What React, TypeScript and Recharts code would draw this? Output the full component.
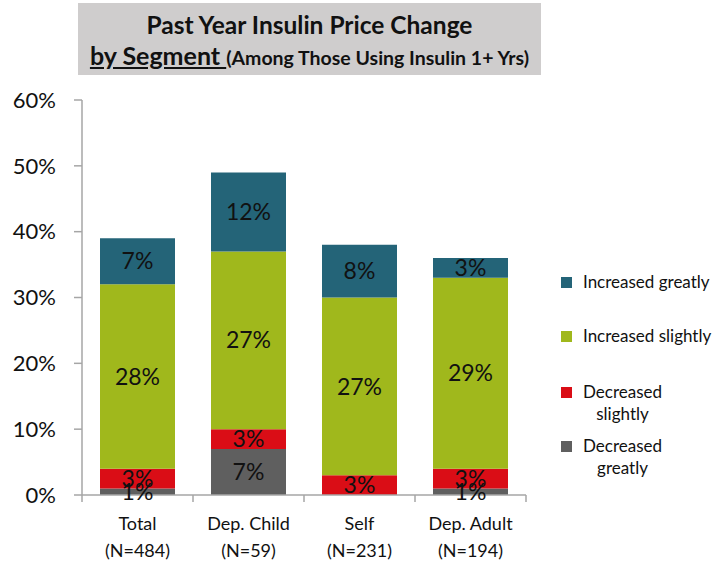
import { BarChart, Bar, XAxis, YAxis, LabelList } from 'recharts'

const categories = ['Total', 'Dep. Child', 'Self', 'Dep. Adult']
const sampleSizes = ['(N=484)', '(N=59)', '(N=231)', '(N=194)']

const decreasedGreatly = [1, 7, 0, 1]
const decreasedSlightly = [3, 3, 3, 3]
const increasedSlightly = [28, 27, 27, 29]
const increasedGreatly = [7, 12, 8, 3]

const yTicks = [0, 10, 20, 30, 40, 50, 60]

const FONT = 'Lato, "Open Sans", sans-serif'
const AXIS_GREY = '#a6a6a6'

const series = [
  { key: 'decGreat', name: 'Decreased greatly', color: '#5f5f5f', values: decreasedGreatly },
  { key: 'decSlight', name: 'Decreased slightly', color: '#da0d16', values: decreasedSlightly },
  { key: 'incSlight', name: 'Increased slightly', color: '#a0b81c', values: increasedSlightly },
  { key: 'incGreat', name: 'Increased greatly', color: '#246478', values: increasedGreatly },
]

const data = categories.map((cat, i) => {
  const row: Record<string, string | number> = { cat, n: sampleSizes[i] }
  series.forEach((s) => {
    row[s.key] = s.values[i]
  })
  return row
})

// legend entries, top to bottom, label lines as in the original
const legendRows = [
  { color: '#246478', lines: ['Increased greatly'] },
  { color: '#a0b81c', lines: ['Increased slightly'] },
  { color: '#da0d16', lines: ['Decreased', 'slightly'] },
  { color: '#5f5f5f', lines: ['Decreased', 'greatly'] },
]
const legendRowHeights = [54, 56, 54, 54]

const PLOT_LEFT = 82
const PLOT_RIGHT = 526
const BAND = (PLOT_RIGHT - PLOT_LEFT) / categories.length

// eslint-disable-next-line @typescript-eslint/no-explicit-any
function CategoryTick(props: any) {
  const { x, y, payload, index } = props
  const half = BAND / 2
  return (
    <g>
      <line x1={x - half} x2={x - half} y1={y} y2={y + 7} stroke={AXIS_GREY} strokeWidth={1.5} />
      {index === categories.length - 1 && (
        <line x1={x + half} x2={x + half} y1={y} y2={y + 7} stroke={AXIS_GREY} strokeWidth={1.5} />
      )}
      <text x={x} y={y + 35} textAnchor="middle" fontSize={18} fontFamily={FONT} fill="#111">
        {payload.value}
      </text>
      <text x={x} y={y + 62} textAnchor="middle" fontSize={18} fontFamily={FONT} fill="#111">
        {sampleSizes[index]}
      </text>
    </g>
  )
}

const pct = (v: number) => (v ? `${v}%` : '')

export default function App() {
  return (
    <div style={{ position: 'absolute', left: 0, top: 0, width: 715, height: 562, background: '#fff', fontFamily: FONT }}>
      <div
        style={{
          position: 'absolute',
          left: 78,
          top: 3,
          width: 463,
          height: 72,
          background: '#cfcdcd',
          textAlign: 'center',
          fontWeight: 700,
          color: '#111',
        }}
      >
        <div style={{ position: 'absolute', left: 0, right: 0, top: 7, fontSize: 24.5, lineHeight: '30px' }}>
          Past Year Insulin Price Change
        </div>
        <div style={{ position: 'absolute', left: 0, right: 0, top: 37, fontSize: 25, lineHeight: '30px', whiteSpace: 'nowrap' }}>
          <span style={{ textDecoration: 'underline' }}>by Segment </span>
          <span style={{ fontSize: 19.5 }}>(Among Those Using Insulin 1+ Yrs)</span>
        </div>
      </div>

      <BarChart
        width={715}
        height={562}
        data={data}
        margin={{ top: 100, right: 715 - PLOT_RIGHT, bottom: 7, left: 0 }}
        barSize={75}
      >
        <YAxis
          domain={[0, 60]}
          ticks={yTicks}
          tickFormatter={(v: number) => `${v}%`}
          width={PLOT_LEFT}
          axisLine={{ stroke: AXIS_GREY, strokeWidth: 1.5 }}
          tickLine={{ stroke: AXIS_GREY, strokeWidth: 1.5 }}
          tickSize={8}
          tickMargin={18}
          tick={{ fontSize: 22, fill: '#111', fontFamily: FONT }}
          interval={0}
        />
        <XAxis
          dataKey="cat"
          height={60}
          axisLine={{ stroke: AXIS_GREY, strokeWidth: 1.5 }}
          tickLine={false}
          tickSize={0}
          tickMargin={0}
          tick={<CategoryTick />}
          interval={0}
        />
        {series.map((s) => (
          <Bar key={s.key} dataKey={s.key} name={s.name} stackId="a" fill={s.color} isAnimationActive={false}>
            <LabelList
              dataKey={s.key}
              position="center"
              formatter={pct}
              style={{ fontSize: 23, fill: '#111', fontFamily: FONT }}
            />
          </Bar>
        ))}
      </BarChart>

      <div style={{ position: 'absolute', left: 561, top: 271, fontSize: 17, color: '#111' }}>
        {legendRows.map((r, i) => (
          <div
            key={i}
            style={{ display: 'flex', alignItems: 'flex-start', height: legendRowHeights[i], lineHeight: '22px' }}
          >
            <span style={{ width: 11, height: 11, background: r.color, marginTop: 6, marginRight: 11, flex: 'none' }} />
            <span style={{ display: 'inline-block', textAlign: 'center' }}>
              {r.lines.map((l, j) => (
                <div key={j}>{l}</div>
              ))}
            </span>
          </div>
        ))}
      </div>
    </div>
  )
}
